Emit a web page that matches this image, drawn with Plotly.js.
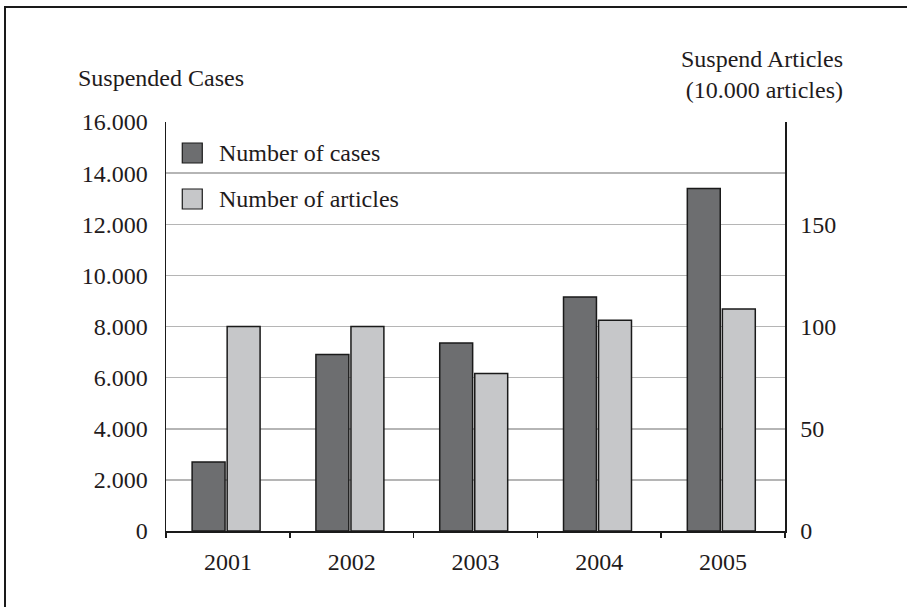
<!DOCTYPE html>
<html>
<head>
<meta charset="utf-8">
<script src="https://cdn.plot.ly/plotly-3.0.1.min.js"></script>
<style>
  html, body { margin: 0; padding: 0; background: #fff; }
  #wrap { position: relative; width: 907px; height: 607px; overflow: hidden; }
  #chart { position: absolute; left: 0; top: 0; width: 907px; height: 607px; }
  #frame { position: absolute; left: 4px; top: 6px; width: 1000px; height: 1000px;
           border-left: 2px solid #1a1a1a; border-top: 2px solid #1a1a1a; pointer-events: none; }
</style>
</head>
<body>
<div id="wrap">
  <div id="chart"></div>
  <div id="frame"></div>
</div>
<script>
// ---- data ----
const years = ["2001", "2002", "2003", "2004", "2005"];
const cases = [2700, 6900, 7350, 9150, 13400];           // suspended cases (left axis)
const articles = [100, 100, 77, 103, 108.5];             // suspended articles, 10.000 (right axis)
const seriesNames = ["Number of cases", "Number of articles"];
const leftTicks = [0, 2000, 4000, 6000, 8000, 10000, 12000, 14000, 16000];
const rightTicks = [0, 50, 100, 150];
const leftTitle = "Suspended Cases";
const rightTitle = "Suspend Articles<br>(10.000 articles)";

const FONT = "Liberation Serif, 'Times New Roman', serif";
const TXT = "#1f1b1c";
const DARK = "#6d6e70";
const LIGHT = "#c6c7c9";

const traces = [
  {
    type: "bar", name: seriesNames[0], x: years, y: cases,
    yaxis: "y", width: 0.266, offset: -0.289,
    marker: { color: DARK, line: { color: "#1a1a1a", width: 1.5 } },
    hoverinfo: "x+y"
  },
  {
    type: "bar", name: seriesNames[1], x: years, y: articles,
    yaxis: "y2", width: 0.266, offset: -0.006,
    marker: { color: LIGHT, line: { color: "#1a1a1a", width: 1.5 } },
    hoverinfo: "x+y"
  }
];

const layout = {
  width: 907, height: 607,
  margin: { l: 166, r: 122, t: 122, b: 76 },
  paper_bgcolor: "#fff", plot_bgcolor: "#fff",
  separators: ",.",
  showlegend: false,
  barmode: "overlay",
  font: { family: FONT, size: 24, color: TXT },
  xaxis: {
    type: "category", range: [-0.5, 4.5],
    showline: true, linecolor: "#1a1a1a", linewidth: 1.5,
    ticks: "outside", tickson: "boundaries", ticklen: 5, tickcolor: "#1a1a1a", tickwidth: 1.5,
    showgrid: false, zeroline: false,
    tickfont: { family: FONT, size: 24, color: TXT },
    ticklabelstandoff: 9
  },
  yaxis: {
    range: [0, 16000], tickvals: leftTicks, tickformat: ",d",
    showline: true, linecolor: "#1a1a1a", linewidth: 1.5, mirror: false,
    showgrid: true, gridcolor: "#b5b5b5", gridwidth: 1.5,
    zeroline: false, ticks: "",
    tickfont: { family: FONT, size: 24, color: TXT },
    ticklabelstandoff: 12
  },
  yaxis2: {
    overlaying: "y", side: "right",
    range: [0, 200], tickvals: rightTicks,
    showline: true, linecolor: "#1a1a1a", linewidth: 1.5,
    showgrid: false, zeroline: false, ticks: "",
    tickfont: { family: FONT, size: 24, color: TXT },
    ticklabelstandoff: 9
  },
  shapes: [
    { type: "rect", xref: "paper", yref: "paper", x0: 0.0263, x1: 0.0586, y0: 0.8998, y1: 0.9487,
      fillcolor: DARK, line: { color: "#1a1a1a", width: 1.2 } },
    { type: "rect", xref: "paper", yref: "paper", x0: 0.0263, x1: 0.0586, y0: 0.7873, y1: 0.8362,
      fillcolor: LIGHT, line: { color: "#1a1a1a", width: 1.2 } }
  ],
  annotations: [
    { xref: "paper", yref: "paper", x: 0.0825, y: 0.9242, xanchor: "left", yanchor: "middle",
      text: seriesNames[0], showarrow: false, font: { family: FONT, size: 24, color: TXT } },
    { xref: "paper", yref: "paper", x: 0.0825, y: 0.8117, xanchor: "left", yanchor: "middle",
      text: seriesNames[1], showarrow: false, font: { family: FONT, size: 24, color: TXT } },
    { xref: "paper", yref: "paper", x: -0.1447, y: 1.1076, xanchor: "left", yanchor: "middle",
      text: leftTitle, showarrow: false, font: { family: FONT, size: 24, color: TXT } },
    { xref: "paper", yref: "paper", x: 1.0975, y: 1.116, xanchor: "right", yanchor: "middle",
      align: "right", text: rightTitle, showarrow: false, font: { family: FONT, size: 24, color: TXT } }
  ]
};

Plotly.newPlot("chart", traces, layout, { displayModeBar: false, staticPlot: true });
</script>
</body>
</html>
